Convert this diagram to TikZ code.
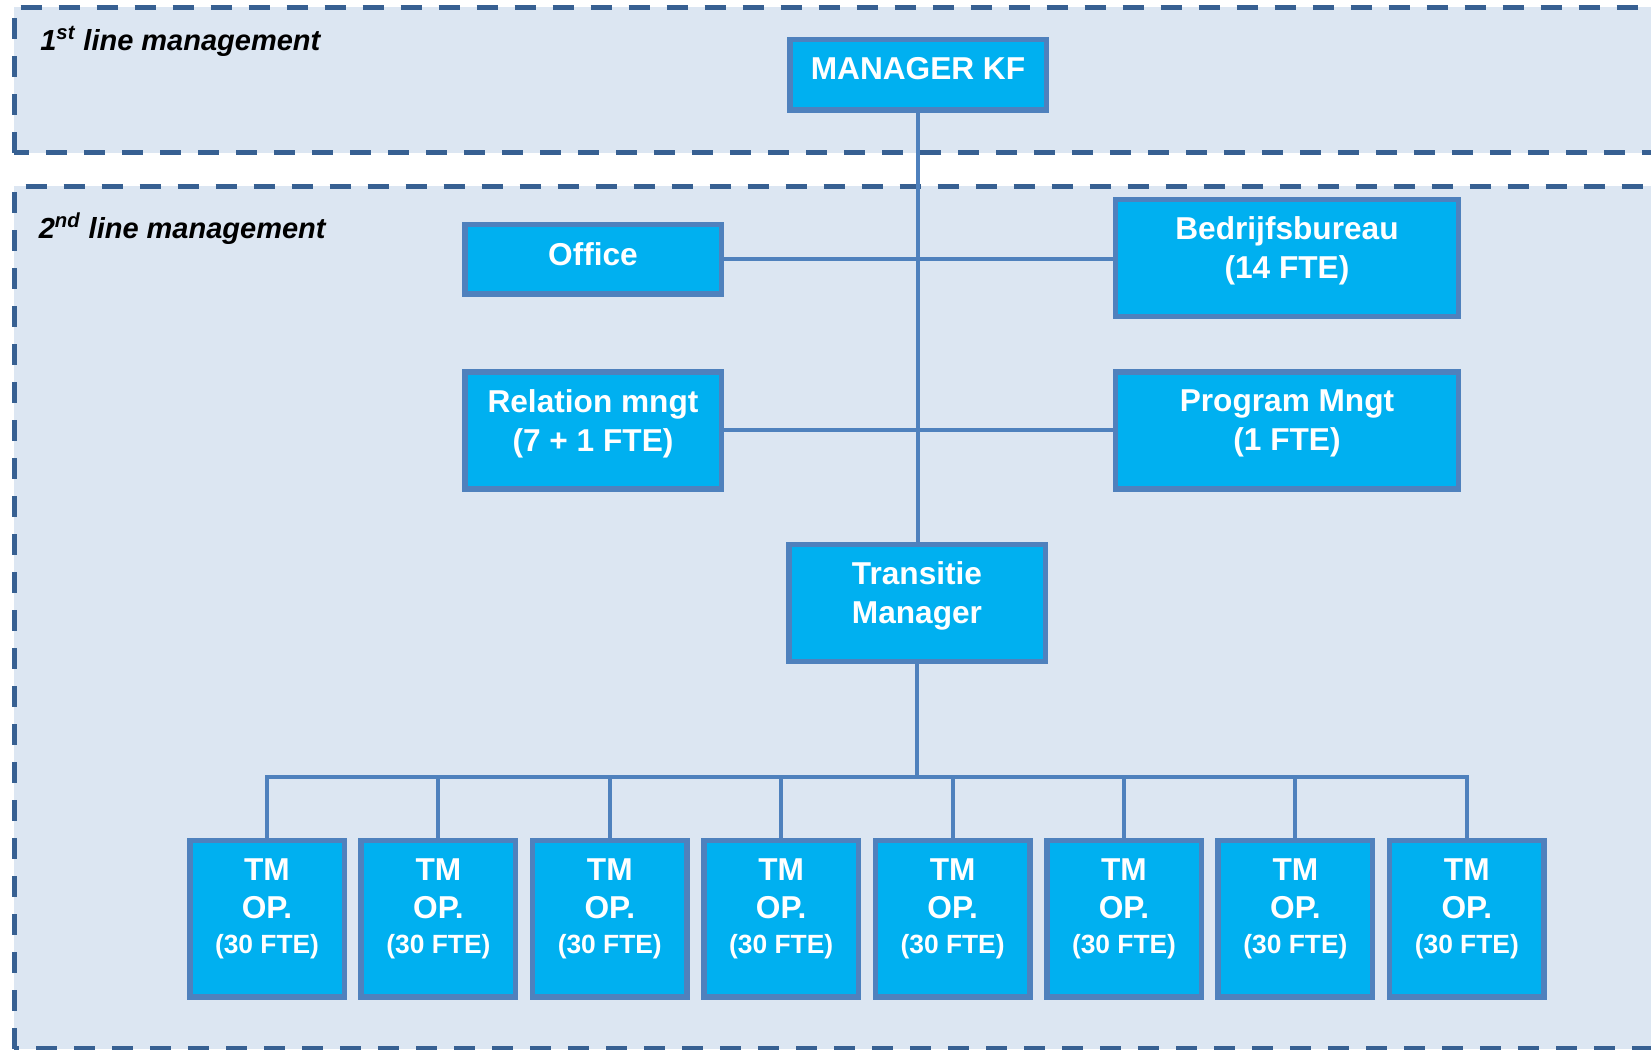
\documentclass[tikz,border=0pt]{standalone}
\usepackage{fontspec}
\setmainfont{Liberation Sans}
\usetikzlibrary{positioning}
\definecolor{panelfill}{RGB}{220,230,242}
\definecolor{paneldash}{RGB}{55,96,146}
\definecolor{boxfill}{RGB}{0,176,240}
\definecolor{boxedge}{RGB}{79,129,189}
\newcommand{\lowpad}[1]{\rule[-#1]{0pt}{0pt}}

\begin{document}
\begin{tikzpicture}[
  x=1mm, y=1mm,
  panel/.style={
    fill=panelfill,
    draw=paneldash,
    line width=1mm,
    dash pattern=on 4.2mm off 3.4mm
  },
  unit/.style={
    draw=boxedge,
    fill=boxfill,
    line width=1.1mm,
    minimum width=51.3mm,
    minimum height=23.4mm,
    inner sep=0pt,
    align=center,
    text=white,
    font=\bfseries\fontsize{18}{22}\selectfont
  },
  wideunit/.style={unit, minimum width=68.6mm},
  tmunit/.style={unit, minimum width=30.9mm, minimum height=31.3mm},
  conn/.style={draw=boxedge, line width=0.8mm},
  layer/.style={anchor=base west, inner sep=0pt, font=\bfseries\itshape\fontsize{16.5}{20}\selectfont}
]

\clip (0,0) rectangle (330.2,210);

% ===== Management layers =====
\draw[panel] (2.8,179.4) rectangle (340,208.5);
\draw[panel] (2.8,0.2) rectangle (340,172.7);
\node[layer] (firstline) at (8,199.9) {1\textsuperscript{st} line management};
\node[layer] (secondline) at (7.7,162.3) {2\textsuperscript{nd} line management};

% ===== Units =====
\node[unit, minimum height=14.1mm] (manager) at (183.6,195) {MANAGER KF\lowpad{2.5mm}};
\node[unit, minimum height=13.9mm] (office) at (118.6,158.1) {Office\lowpad{2.3mm}};
\node[wideunit] (bedrijf) at (257.4,158.4) {Bedrijfsbureau\\(14 FTE)\lowpad{4.1mm}};
\node[unit] (relation) at (118.6,123.9) {Relation mngt\\(7 + 1 FTE)\lowpad{4.1mm}};
\node[wideunit] (program) at (257.4,123.9) {Program Mngt\\(1 FTE)\lowpad{4.1mm}};
\node[unit] (transitie) at (183.4,89.4) {Transitie\\Manager\lowpad{4.1mm}};

% TM operations
\foreach \i in {1,...,8}
  \node[tmunit] (tm\i) at ({53.4+(\i-1)*34.28},26.2)
    {TM\\OP.\\[-2.5pt]{\fontsize{15}{18}\selectfont(30 FTE)\lowpad{5.3mm}}};

% ===== Reporting lines =====
\coordinate (bus) at (0,54.6);
\draw[conn] (manager.south) -- (manager.south |- transitie.north);
\draw[conn] (office.east) -- (office.east -| bedrijf.west);
\draw[conn] (relation.east) -- (relation.east -| program.west);
\draw[conn] (transitie.south) -- (transitie.south |- bus);
\draw[conn] (tm1.north) |- (bus -| tm8.north) -- (tm8.north);
\foreach \i in {2,...,7}
  \draw[conn] (tm\i.north) -- (tm\i.north |- bus);

\end{tikzpicture}
\end{document}
